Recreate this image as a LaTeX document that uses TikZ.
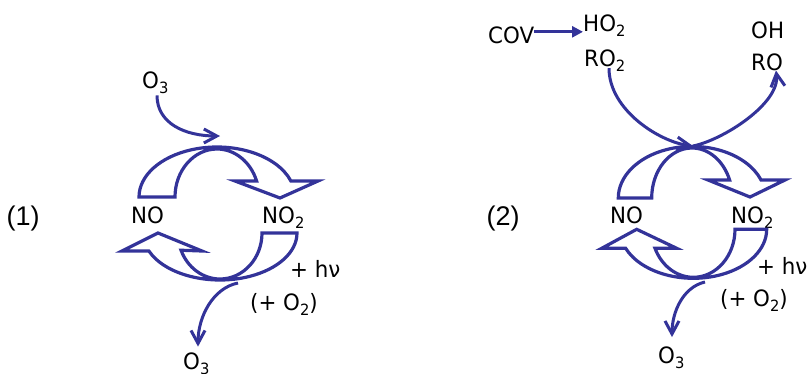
\documentclass[tikz,border=0pt]{standalone}
\usepackage{fontspec}
\setmainfont{DejaVu Sans}[FakeStretch=0.95]
\newfontfamily\numfont{Liberation Sans}
\usetikzlibrary{arrows.meta, calc}
\definecolor{cycblue}{RGB}{51,51,153}
\newcommand\dn[1]{\raisebox{-5pt}{\fontsize{15.5}{15.5}\selectfont #1}}

\begin{document}
\begin{tikzpicture}[x=1pt, y=-1pt,
  lbl/.style={inner sep=0pt, anchor=base west, font=\fontsize{22.5}{26}\selectfont},
  tag/.style={inner sep=0pt, anchor=base west, font=\numfont\fontsize{27}{32}\selectfont},
  blk/.style={draw=cycblue, line width=3.2pt},
  flow/.style={draw=cycblue, line width=3pt, -{Straight Barb[length=13pt, width=14pt]}},
  feed/.style={draw=cycblue, line width=3pt, -{Triangle[length=11pt, width=11pt]}}
]
\useasboundingbox (0,0) rectangle (807,373);

% cycle (1)
\node[tag] (p1) at (6.5,225.7) {(1)};
\node[lbl] (no1) at (131,223.5) {NO};
\node[lbl] (nob1) at (262,223.5) {NO\dn{2}};
\node[lbl] (o3a) at (142,88) {O\dn{3}};
\node[lbl] (hv1) at (290,277) {+ hν};
\node[lbl] (ox1) at (250,310) {(+ O\dn{2})};
\node[lbl] (o3b) at (183,369.5) {O\dn{3}};

\coordinate (c1t) at (217,197);
\coordinate (c1b) at (220,233);
\draw[blk] (139,197) -- (175,197) arc[start angle=180, end angle=340.5, x radius=42, y radius=48]
  -- (235,181) -- (280,198) -- (318,181) -- ($(c1t)+(341.3:78 and 50)$)
  arc[start angle=341.3, end angle=180, x radius=78, y radius=50] -- cycle;
\draw[blk] (297,233) -- (262,233) arc[start angle=0, end angle=158, x radius=42, y radius=46]
  -- (202,251) -- (158,233) -- (122,251) -- ($(c1b)+(157.6:77 and 47)$)
  arc[start angle=157.6, end angle=0, x radius=77, y radius=47] -- cycle;

\coordinate (in1) at (220,136);
\coordinate (out1) at (238,283);
\draw[flow] ([xshift=15pt,yshift=-2pt]o3a.south west) .. controls +(0,28) and +(-35,0) .. (in1);
\draw[flow] (out1) .. controls +(-25,5) and +(0,-30) .. ([xshift=15pt,yshift=6pt]o3b.north west);

% cycle (2)
\node[tag] (p2) at (486.5,225.7) {(2)};
\node[lbl] (cov) at (488,43) {COV};
\node[lbl] (ho2) at (583,31) {HO\dn{2}};
\node[lbl] (ro2) at (584,66) {RO\dn{2}};
\node[lbl] (oh) at (751,38) {OH};
\node[lbl] (ro) at (751,70) {RO};
\node[lbl] (no2) at (610,223.5) {NO};
\node[lbl] (nob2) at (731,223.5) {NO\dn{2}};
\node[lbl] (hv2) at (757,274) {+ hν};
\node[lbl] (ox2) at (720,306) {(+ O\dn{2})};
\node[lbl] (o3c) at (658,363) {O\dn{3}};

\coordinate (c2t) at (692,198);
\coordinate (c2b) at (693.3,229.3);
\draw[blk] (618.3,198) -- (651.7,198) arc[start angle=180, end angle=338.9, x radius=40.3, y radius=50]
  -- (708,180) -- (750,197) -- (785,180) -- ($(c2t)+(339.6:73.7 and 51.6)$)
  arc[start angle=339.6, end angle=180, x radius=73.7, y radius=51.6] -- cycle;
\draw[blk] (766.7,229.3) -- (735,229.3) arc[start angle=0, end angle=156.7, x radius=41.7, y radius=48]
  -- (676.7,248.3) -- (636.7,229.3) -- (601.7,248.3) -- ($(c2b)+(157.2:73.4 and 49)$)
  arc[start angle=157.2, end angle=0, x radius=73.4, y radius=49] -- cycle;

\coordinate (j2) at (693,146);
\coordinate (out2) at (705,282);
\draw[feed] ([yshift=3pt]cov.east) -- ([yshift=3pt]cov.east -| ho2.west);
\draw[flow] ([xshift=25pt,yshift=3pt]ro2.south west) .. controls +(0,42) and +(-33,-4) .. (j2);
\draw[flow] (j2) .. controls +(30,-6) and +(4,33) .. ([xshift=25pt]ro.south west);
\draw[flow] (out2) .. controls +(-22,5) and +(0,-25) .. ([xshift=14pt,yshift=9pt]o3c.north west);
\end{tikzpicture}
\end{document}
